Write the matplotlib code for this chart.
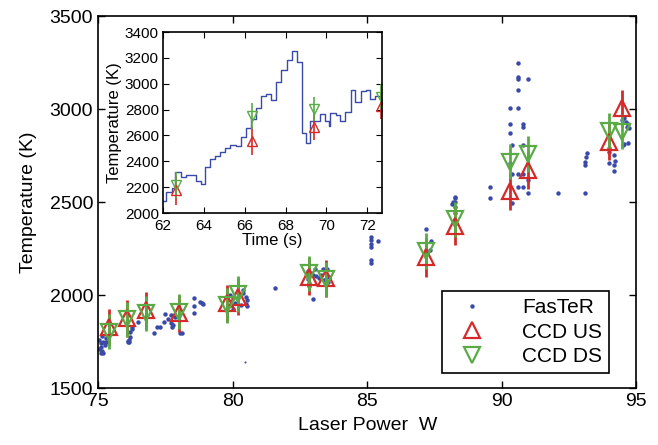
import matplotlib
matplotlib.use('Agg')
import matplotlib.pyplot as plt

plt.rcParams['font.family'] = ['Liberation Sans', 'DejaVu Sans']

# FasTeR points (laser power W, temperature K)
faster_w = [75.05, 75.1, 75.1, 75.15, 75.2, 75.25, 75.3, 75.15, 75.05, 75.2, 75.3, 75.1,
            76.1, 76.15, 76.2, 76.2, 76.25, 76.25, 76.1, 76.15, 76.5,
            77.07, 77.2, 77.3, 77.44, 77.5, 77.6, 77.7, 77.7, 77.8, 77.75, 77.85, 78.06,
            78.12, 78.56, 78.56, 78.56, 78.78, 78.85, 78.9,
            79.9, 80.0, 80.1, 80.4, 80.5, 80.55, 80.5, 80.55, 80.3, 80.4, 79.95, 80.0,
            81.58,
            82.8, 82.8, 82.8, 82.85, 82.9, 83.0, 83.05, 83.0, 83.35, 83.5, 83.4, 83.55,
            83.3, 83.6, 83.2, 82.85, 83.1,
            85.15, 85.15, 85.15, 85.15, 85.15, 85.15, 85.4,
            87.2, 87.39, 87.35,
            88.26, 88.26, 88.26, 88.26, 88.26, 88.26, 88.26, 88.19, 88.14,
            89.58, 89.58,
            90.59, 90.59, 90.59, 90.59, 90.59, 90.59, 90.59, 90.98,
            90.29, 90.29, 90.29, 90.29, 90.37, 90.37, 90.37,
            90.78, 90.78, 90.78, 90.78, 90.78, 90.98, 90.98,
            92.09, 93.08, 93.17, 93.11, 93.11, 93.15,
            93.98, 93.98, 93.98, 94.17, 94.17, 94.17, 94.2,
            94.48, 94.55, 94.6, 94.65, 94.7, 94.73, 94.5, 94.7, 94.55]
faster_t = [1760, 1740, 1720, 1700, 1750, 1730, 1770, 1780, 1710, 1690, 1745, 1690,
            1755, 1760, 1775, 1800, 1815, 1830, 1750, 1745, 1856,
            1797, 1830, 1830, 1856, 1900, 1870, 1890, 1850, 1840, 1830, 1880, 1795,
            1794, 1982, 1942, 1905, 1965, 1955, 1950,
            2000, 1985, 1955, 2010, 1990, 1975, 1950, 1940, 1945, 2025, 1945, 1925,
            2039,
            2130, 2100, 2085, 2050, 2120, 2110, 2140, 1978, 2140, 2140, 2080, 2070,
            2110, 2095, 2090, 2065, 2105,
            2313, 2295, 2277, 2259, 2188, 2170, 2290,
            2353, 2292, 2242,
            2528, 2520, 2500, 2475, 2440, 2405, 2380, 2502, 2490,
            2582, 2520,
            3246, 3174, 3159, 3102, 3004, 2650, 2582, 3161,
            3004, 2918, 2873, 2712, 2806, 2650, 2493,
            2918, 2902, 2806, 2650, 2582, 2618, 2547,
            2547, 2547, 2762, 2715, 2699, 2740,
            2790, 2770, 2711, 2752, 2699, 2668, 2720,
            2941, 2951, 2930, 2905, 2920, 2898, 2806, 2815, 2810]

# CCD upstream / downstream
ccd_w = [75.39, 76.07, 76.78, 78.0, 79.8, 80.2, 82.85, 83.47, 87.2, 88.28, 90.29, 90.98, 93.98, 94.48]
us_t = [1826, 1875, 1919, 1901, 1955, 1990, 2098, 2090, 2203, 2371, 2557, 2672, 2824, 3004]
us_err = [97, 100, 100, 100, 100, 100, 100, 100, 105, 100, 100, 100, 100, 100]
ds_w = [75.39, 76.07, 76.78, 78.0, 79.8, 80.2, 82.85, 83.47, 87.2, 88.28, 90.29, 90.98, 93.98, 94.48]
ds_t = [1803, 1870, 1901, 1910, 1944, 2005, 2117, 2085, 2236, 2407, 2717, 2758, 2883, 2878]
ds_err = [95, 95, 95, 95, 95, 95, 95, 95, 95, 95, 95, 95, 95, 95]

# inset: FasTeR time trace
trace_time = [62.0, 62.15, 62.45, 62.6, 62.9, 63.15, 63.6, 63.85, 64.05, 64.3, 64.55, 64.8,
              65.05, 65.3, 65.55, 65.8, 66.05, 66.3, 66.55, 66.8, 67.05, 67.3, 67.55, 67.8,
              68.05, 68.3, 68.55, 68.82, 69.0, 69.22, 69.46, 69.71, 69.95, 70.15, 70.2,
              70.45, 70.68, 70.93, 71.18, 71.42, 71.67, 71.92, 72.13, 72.38, 72.63, 72.72]
trace_temp = [2095, 2162, 2190, 2315, 2275, 2295, 2250, 2225, 2355, 2420, 2440, 2470,
              2500, 2525, 2521, 2585, 2655, 2730, 2815, 2905, 2920, 2875, 3015, 3110,
              3185, 3250, 3170, 2620, 2545, 2710, 2715, 2765, 2715, 2675, 2770,
              2760, 2710, 2780, 2955, 2855, 2945, 2950, 2880, 2905, 2890, 2890]
inset_time = [62.65, 66.35, 69.4, 72.68]
inset_us = [2175, 2557, 2668, 2830]
inset_ds = [2215, 2750, 2804, 2900]
inset_us_err = [110, 110, 100, 100]
inset_ds_err = [100, 100, 95, 95]

blue = '#3a4aa8'
red = '#d42a2a'
green = '#5aab46'

fig = plt.figure(figsize=(6.58, 4.45), dpi=100)
ax = fig.add_axes([0.149, 0.128, 0.818, 0.836])

dots, = ax.plot(faster_w, faster_t, 'o', color=blue, ms=3.2, mew=0)
ax.plot([80.46], [1638], 'o', color=blue, ms=1.5, mew=0)
us = ax.errorbar(ccd_w, us_t, yerr=us_err, fmt='^', color=red, ms=11.5, mfc='none',
                 mew=1.6, elinewidth=2, capsize=0)
ds = ax.errorbar(ds_w, ds_t, yerr=ds_err, fmt='v', color=green, ms=11.5, mfc='none',
                 mew=1.6, elinewidth=2, capsize=0)

ax.set_xlim(75, 95)
ax.set_ylim(1500, 3500)
ax.set_xticks([75, 80, 85, 90, 95])
ax.set_yticks([1500, 2000, 2500, 3000, 3500])
ax.tick_params(direction='in', top=True, right=True, labelsize=14, length=5, width=1)
for s in ax.spines.values():
    s.set_linewidth(1.2)
ax.set_xlabel('Laser Power  W', fontsize=14, labelpad=5)
ax.set_ylabel('Temperature (K)', fontsize=14, labelpad=9)

leg = ax.legend([dots, us.lines[0], ds.lines[0]], ['FasTeR', 'CCD US', 'CCD DS'],
                loc='lower right', fontsize=15, fancybox=False, framealpha=1,
                edgecolor='black', handletextpad=1.3, handlelength=2.2,
                borderpad=0.35, labelspacing=0.25, borderaxespad=0,
                bbox_to_anchor=(0.95, 0.04))
leg.get_frame().set_linewidth(1.2)

# inset
axi = fig.add_axes([0.2477, 0.5213, 0.3328, 0.4067])
axi.step(trace_time, trace_temp, where='post', color=blue, lw=1)
axi.errorbar(inset_time, inset_us, yerr=inset_us_err, fmt='^', color=red, ms=7,
             mfc='none', mew=1, elinewidth=1.2, capsize=0)
axi.errorbar(inset_time, inset_ds, yerr=inset_ds_err, fmt='v', color=green, ms=7,
             mfc='none', mew=1, elinewidth=1.2, capsize=0)
axi.set_xlim(62, 72.72)
axi.set_ylim(2000, 3400)
axi.set_xticks([62, 64, 66, 68, 70, 72])
axi.set_yticks([2000, 2200, 2400, 2600, 2800, 3000, 3200, 3400])
axi.tick_params(direction='in', top=True, right=True, labelsize=11, length=4)
axi.tick_params(axis='x', pad=4)
axi.tick_params(axis='y', pad=3)
for s in axi.spines.values():
    s.set_linewidth(1.2)
axi.set_xlabel('Time (s)', fontsize=12, labelpad=0)
axi.set_ylabel('Temperature (K)', fontsize=12, labelpad=2)

fig.savefig('out.png', dpi=100)
